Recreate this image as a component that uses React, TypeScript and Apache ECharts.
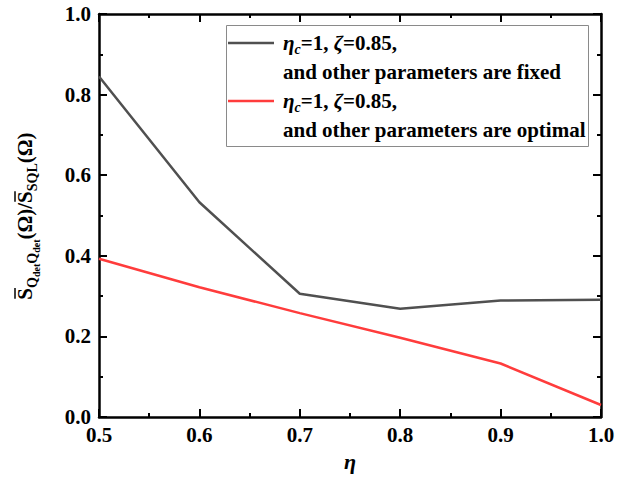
import React, { useEffect, useRef } from 'react';
import * as echarts from 'echarts';

const etaValues = [0.5, 0.6, 0.7, 0.8, 0.9, 1.0];
const fixedValues = [0.845, 0.533, 0.306, 0.269, 0.289, 0.291];
const optimalValues = [0.393, 0.322, 0.258, 0.197, 0.133, 0.030];
const seriesNames = ['fixed', 'optimal'];
const seriesColors = ['#505050', '#ff3c3c'];
const legendSecondLines = ['and other parameters are fixed', 'and other parameters are optimal'];
const xTickLabels = ['0.5', '0.6', '0.7', '0.8', '0.9', '1.0'];
const yTickLabels = ['0.0', '0.2', '0.4', '0.6', '0.8', '1.0'];

const FONT = 'Liberation Serif';

function measure(text: string, size: number, italic = false): number {
  const c = document.createElement('canvas').getContext('2d');
  if (!c) return text.length * size * 0.5;
  c.font = `${italic ? 'italic ' : ''}bold ${size}px ${FONT}`;
  return c.measureText(text).width;
}

function buildYLabel() {
  const pieces = [
    { t: 'S', s: 21, dy: 0, bar: true },
    { t: 'Q', s: 14, dy: 5 },
    { t: 'det', s: 10, dy: 8 },
    { t: 'Q', s: 14, dy: 5 },
    { t: 'det', s: 10, dy: 8 },
    { t: '(Ω)/', s: 21, dy: 0 },
    { t: 'S', s: 21, dy: 0, bar: true },
    { t: 'SQL', s: 14, dy: 5 },
    { t: '(Ω)', s: 21, dy: 0 },
  ];
  const children: any[] = [];
  let x = 0;
  for (const p of pieces) {
    const w = measure(p.t, p.s);
    children.push({
      type: 'text',
      style: {
        text: p.t,
        x,
        y: p.dy - 0.33 * p.s,
        fontFamily: FONT,
        fontWeight: 'bold',
        fontSize: p.s,
        fill: '#000',
        align: 'left',
        verticalAlign: 'middle',
      },
    });
    if ((p as any).bar) {
      children.push({
        type: 'line',
        shape: { x1: x + 1, y1: -17, x2: x + w, y2: -17 },
        style: { stroke: '#000', lineWidth: 1.5 },
      });
    }
    x += w;
  }
  const total = x;
  return {
    type: 'group',
    x: 32,
    y: 216 + total / 2,
    rotation: Math.PI / 2,
    children,
  };
}

function legendFirstLine(y: number) {
  return {
    type: 'text',
    style: {
      text: '{i|η}{c|c}{b|=1, }{i|ζ}{b|=0.85,}',
      x: 283,
      y,
      align: 'left',
      verticalAlign: 'middle',
      rich: {
        i: { fontFamily: FONT, fontStyle: 'italic', fontWeight: 'bold', fontSize: 21, lineHeight: 26, fill: '#000' },
        c: { fontFamily: FONT, fontStyle: 'italic', fontWeight: 'bold', fontSize: 14, lineHeight: 14, verticalAlign: 'bottom', fill: '#000' },
        b: { fontFamily: FONT, fontWeight: 'bold', fontSize: 21, lineHeight: 26, fill: '#000' },
      },
    },
  };
}

function buildLegend() {
  const rows = [43, 101];
  const items: any[] = [
    {
      type: 'rect',
      shape: { x: 226.5, y: 25.5, width: 362, height: 121 },
      style: { fill: '#fff', stroke: '#8a8a8a', lineWidth: 1 },
      z: 10,
    },
  ];
  seriesNames.forEach((_, i) => {
    const y = rows[i];
    items.push({
      type: 'line',
      shape: { x1: 228, y1: y, x2: 274, y2: y },
      style: { stroke: seriesColors[i], lineWidth: 2.5 },
      z: 11,
    });
    items.push({ ...legendFirstLine(y), z: 11 });
    items.push({
      type: 'text',
      z: 11,
      style: {
        text: legendSecondLines[i],
        x: 283,
        y: y + 29,
        align: 'left',
        verticalAlign: 'middle',
        fontFamily: FONT,
        fontWeight: 'bold',
        fontSize: 21,
        fill: '#000',
      },
    });
  });
  return items;
}

const axisCommon = {
  axisLine: { show: true, onZero: false, lineStyle: { color: '#000', width: 2.5 } },
  axisTick: { show: true, inside: true, length: 8, lineStyle: { color: '#000', width: 2 } },
  minorTick: { show: true, splitNumber: 2, length: 4, lineStyle: { color: '#000', width: 2 } },
  splitLine: { show: false },
  minorSplitLine: { show: false },
};

export default function App() {
  const ref = useRef<HTMLDivElement>(null);
  useEffect(() => {
    if (!ref.current) return;
    const chart = echarts.init(ref.current, null, { renderer: 'svg' });
    const labelStyle = { fontFamily: FONT, fontWeight: 'bold' as const, fontSize: 21, color: '#000' };
    chart.setOption({
      animation: false,
      backgroundColor: '#fff',
      textStyle: { fontFamily: FONT },
      grid: { left: 99, right: 30, top: 14, bottom: 58, containLabel: false },
      xAxis: [
        {
          type: 'value',
          min: 0.5,
          max: 1.0,
          interval: 0.1,
          position: 'bottom',
          ...axisCommon,
          axisLabel: {
            ...labelStyle,
            margin: 7,
            formatter: (v: number) => xTickLabels[Math.round((v - 0.5) * 10)] ?? v.toFixed(1),
          },
          name: 'η',
          nameLocation: 'middle',
          nameGap: 32,
          nameTextStyle: { fontFamily: FONT, fontWeight: 'bold', fontStyle: 'italic', fontSize: 22, color: '#000' },
        },
        {
          type: 'value',
          min: 0.5,
          max: 1.0,
          interval: 0.1,
          position: 'top',
          ...axisCommon,
          axisLabel: { show: false },
        },
      ],
      yAxis: [
        {
          type: 'value',
          min: 0,
          max: 1,
          interval: 0.2,
          position: 'left',
          ...axisCommon,
          axisLabel: {
            ...labelStyle,
            margin: 8,
            formatter: (v: number) => yTickLabels[Math.round(v * 5)] ?? v.toFixed(1),
          },
        },
        {
          type: 'value',
          min: 0,
          max: 1,
          interval: 0.2,
          position: 'right',
          ...axisCommon,
          axisLabel: { show: false },
        },
      ],
      series: [
        {
          name: seriesNames[0],
          type: 'line',
          xAxisIndex: 0,
          yAxisIndex: 0,
          data: etaValues.map((x, i) => [x, fixedValues[i]]),
          symbol: 'none',
          lineStyle: { color: seriesColors[0], width: 2.5 },
          itemStyle: { color: seriesColors[0] },
        },
        {
          name: seriesNames[1],
          type: 'line',
          xAxisIndex: 0,
          yAxisIndex: 0,
          data: etaValues.map((x, i) => [x, optimalValues[i]]),
          symbol: 'none',
          lineStyle: { color: seriesColors[1], width: 2.5 },
          itemStyle: { color: seriesColors[1] },
        },
      ],
      graphic: [buildYLabel(), ...buildLegend()],
    });
    return () => chart.dispose();
  }, []);
  return (
    <div
      ref={ref}
      style={{ position: 'fixed', left: 0, top: 0, width: 631, height: 477, background: '#fff' }}
    />
  );
}
